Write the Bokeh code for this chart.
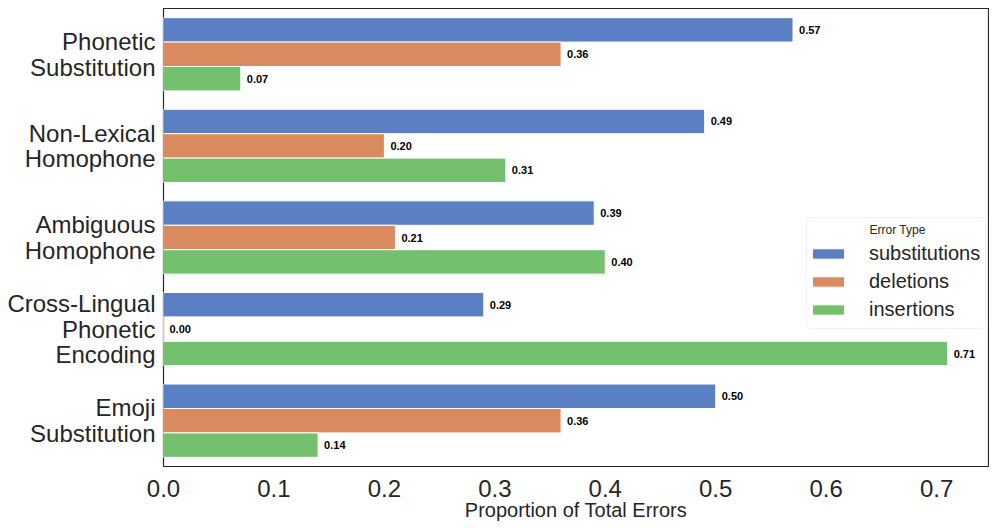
from bokeh.plotting import figure
from bokeh.models import (ColumnDataSource, Range1d, FixedTicker, Legend, LegendItem,
                          LabelSet, Label, BoxAnnotation)
from bokeh.core.properties import value
from bokeh.embed import file_html
from bokeh.resources import INLINE

categories = ["Phonetic\nSubstitution", "Non-Lexical\nHomophone", "Ambiguous\nHomophone",
              "Cross-Lingual\nPhonetic\nEncoding", "Emoji\nSubstitution"]
series_names = ["substitutions", "deletions", "insertions"]
substitutions = [0.57, 0.49, 0.39, 0.29, 0.50]
deletions = [0.36, 0.20, 0.21, 0.00, 0.36]
insertions = [0.07, 0.31, 0.40, 0.71, 0.14]
x_ticks = [0.0, 0.1, 0.2, 0.3, 0.4, 0.5, 0.6, 0.7]

colors = ["#5a7fc3", "#d98b5f", "#74c06f"]
FONT = "Liberation Sans"
TXT = "#262626"

X_MAX = 0.747
p = figure(frame_width=825, frame_height=458, output_backend="svg", toolbar_location=None,
           x_range=Range1d(0, X_MAX), y_range=Range1d(4.5, -0.5),
           min_border_left=163, min_border_right=1, min_border_top=8, min_border_bottom=54)
p.grid.visible = False
p.outline_line_color = "#262626"
p.outline_line_width = 1.2
p.background_fill_color = "white"

bw = 0.8 / 3
renderers = []
for k, (name, vals) in enumerate(zip(series_names, [substitutions, deletions, insertions])):
    ys = [i + (k - 1) * bw for i in range(len(vals))]
    src = ColumnDataSource(dict(y=ys, v=vals, lab=["%.2f" % v for v in vals]))
    r = p.hbar(y="y", right="v", left=0, height=bw, source=src,
               fill_color=colors[k], line_color="white", line_width=1)
    renderers.append(r)
    p.add_layout(LabelSet(x="v", y="y", text="lab", source=src, x_offset=6,
                          text_font=value(FONT), text_font_size="11px", text_font_style="bold",
                          text_color="black", text_align="left", text_baseline="middle"))

# y axis
p.yaxis.ticker = FixedTicker(ticks=list(range(len(categories))))
p.yaxis.major_label_overrides = {i: c for i, c in enumerate(categories)}
p.yaxis.major_label_text_font = FONT
p.yaxis.major_label_text_font_size = "24px"
p.yaxis.major_label_text_color = TXT
p.yaxis.major_label_text_align = "right"
p.yaxis.major_label_standoff = 8
p.yaxis.major_label_text_line_height = 0.95

p.xaxis.ticker = FixedTicker(ticks=x_ticks)
p.xaxis.major_label_overrides = {t: "%.1f" % t for t in x_ticks}
p.xaxis.major_label_text_font = FONT
p.xaxis.major_label_text_font_size = "24px"
p.xaxis.major_label_text_color = TXT
p.xaxis.major_label_standoff = 13
p.xaxis.axis_label = "Proportion of Total Errors"
p.xaxis.axis_label_text_font = FONT
p.xaxis.axis_label_text_font_size = "20px"
p.xaxis.axis_label_text_font_style = "normal"
p.xaxis.axis_label_text_color = TXT
p.xaxis.axis_label_standoff = -1

for ax in (p.xaxis, p.yaxis):
    ax.axis_line_color = None
    ax.major_tick_line_color = None
    ax.minor_tick_line_color = None
    ax.major_tick_out = 0
    ax.major_tick_in = 0
    ax.minor_tick_out = 0


def sx(px):
    return (px - 163) / 825 * X_MAX


def sy(py):
    return -0.5 + (py - 8) / 458 * 5


box = BoxAnnotation(left=sx(806), right=sx(985), top=sy(217), bottom=sy(328),
                    fill_color="white", fill_alpha=0.85, line_color="#d0d0d0",
                    line_width=1, border_radius=4)
p.add_layout(box)

legend = Legend(items=[LegendItem(label=n, renderers=[r]) for n, r in zip(series_names, renderers)],
                location=(645, 145),
                label_text_font=FONT, label_text_font_size="20px", label_text_color=TXT,
                glyph_width=40, glyph_height=13, label_height=22, spacing=5,
                label_standoff=21, padding=0, margin=0,
                border_line_color=None, background_fill_alpha=0)
p.add_layout(legend)

p.add_layout(Label(x=sx(869), y=sy(229), text="Error Type", text_font=FONT,
                   text_font_size="12px", text_color=TXT, text_baseline="middle",
                   text_align="left"))

open("out.html", "w").write(file_html(p, INLINE))
